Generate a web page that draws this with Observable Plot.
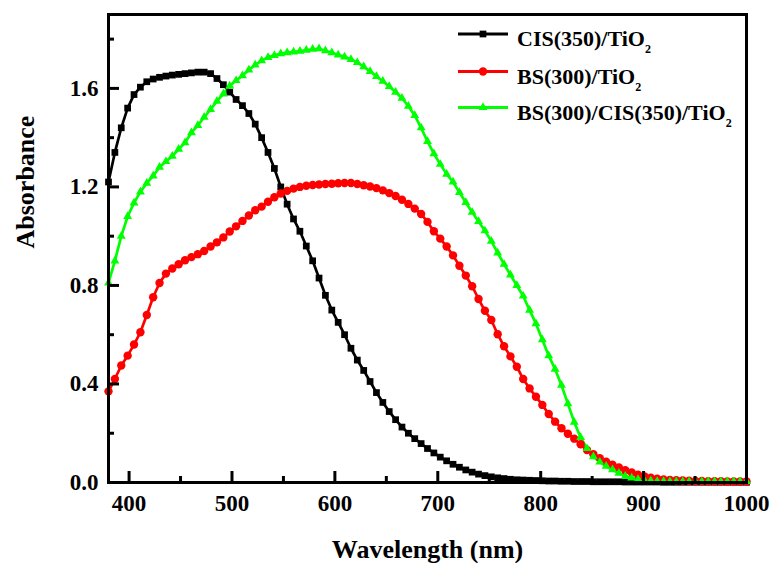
<!DOCTYPE html>
<html>
<head>
<meta charset="utf-8">
<script src="https://cdn.jsdelivr.net/npm/d3@7"></script>
<script src="https://cdn.jsdelivr.net/npm/@observablehq/plot@0.6"></script>
<style>
html, body { margin: 0; padding: 0; background: #fff; }
#wrap { position: relative; width: 774px; height: 563px; overflow: hidden; }
#legend { position: absolute; left: 440px; top: 14px; pointer-events: none; background: transparent; }
</style>
</head>
<body>
<div id="wrap"></div>
<script>
// ---- data ----
const wavelengths = [
  380, 386.2, 392.4, 398.6, 404.8, 411, 417.2, 423.4, 429.6, 435.8,
  442, 448.2, 454.4, 460.6, 466.8, 473, 479.2, 485.4, 491.6, 497.8,
  504, 510.2, 516.4, 522.6, 528.8, 535, 541.2, 547.4, 553.6, 559.8,
  566, 572.2, 578.4, 584.6, 590.8, 597, 603.2, 609.4, 615.6, 621.8,
  628, 634.2, 640.4, 646.6, 652.8, 659, 665.2, 671.4, 677.6, 683.8,
  690, 696.2, 702.4, 708.6, 714.8, 721, 727.2, 733.4, 739.6, 745.8,
  752, 758.2, 764.4, 770.6, 776.8, 783, 789.2, 795.4, 801.6, 807.8,
  814, 820.2, 826.4, 832.6, 838.8, 845, 851.2, 857.4, 863.6, 869.8,
  876, 882.2, 888.4, 894.6, 900.8, 907, 913.2, 919.4, 925.6, 931.8,
  938, 944.2, 950.4, 956.6, 962.8, 969, 975.2, 981.4, 987.6, 993.8,
  1000
];

const cisTiO2 = [
  1.22, 1.34, 1.44, 1.52, 1.575, 1.605, 1.627, 1.638, 1.645, 1.65,
  1.654, 1.657, 1.66, 1.663, 1.666, 1.666, 1.66, 1.64, 1.615, 1.585,
  1.555, 1.53, 1.498, 1.455, 1.40, 1.34, 1.275, 1.20, 1.13, 1.07,
  1.02, 0.96, 0.90, 0.83, 0.76, 0.70, 0.65, 0.60, 0.545, 0.497,
  0.455, 0.41, 0.365, 0.325, 0.288, 0.255, 0.225, 0.20, 0.178, 0.158,
  0.138, 0.12, 0.103, 0.088, 0.074, 0.062, 0.051, 0.042, 0.034, 0.028,
  0.023, 0.019, 0.016, 0.013, 0.011, 0.01, 0.009, 0.008, 0.007, 0.006,
  0.006, 0.005, 0.005, 0.004, 0.004, 0.004, 0.003, 0.003, 0.003, 0.003,
  0.003, 0.002, 0.002, 0.002, 0.002, 0.002, 0.002, 0.001, 0.001, 0.001,
  0.001, 0.001, 0.001, 0.001, 0.001, 0.001, 0.001, 0.001, 0.001, 0.001,
  0.001
];

const bsTiO2 = [
  0.37, 0.42, 0.475, 0.515, 0.56, 0.61, 0.68, 0.752, 0.81, 0.848,
  0.869, 0.886, 0.902, 0.915, 0.927, 0.94, 0.958, 0.975, 0.995, 1.019,
  1.04, 1.062, 1.084, 1.105, 1.12, 1.14, 1.158, 1.173, 1.184, 1.193,
  1.20, 1.205, 1.208, 1.21, 1.212, 1.213, 1.215, 1.216, 1.216, 1.212,
  1.207, 1.202, 1.195, 1.186, 1.175, 1.163, 1.148, 1.131, 1.112, 1.09,
  1.058, 1.02, 0.99, 0.958, 0.922, 0.88, 0.84, 0.797, 0.745, 0.697,
  0.66, 0.602, 0.553, 0.512, 0.47, 0.42, 0.382, 0.348, 0.315, 0.278,
  0.247, 0.22, 0.198, 0.178, 0.155, 0.132, 0.115, 0.099, 0.084, 0.072,
  0.061, 0.05, 0.041, 0.032, 0.025, 0.019, 0.015, 0.012, 0.01, 0.009,
  0.008, 0.007, 0.006, 0.006, 0.005, 0.005, 0.005, 0.004, 0.004, 0.004,
  0.004
];

const bsCisTiO2 = [
  0.81, 0.90, 1.00, 1.08, 1.135, 1.18, 1.215, 1.245, 1.28, 1.303,
  1.325, 1.353, 1.38, 1.42, 1.45, 1.483, 1.515, 1.548, 1.578, 1.61,
  1.632, 1.652, 1.675, 1.695, 1.713, 1.726, 1.734, 1.741, 1.745, 1.748,
  1.751, 1.755, 1.759, 1.761, 1.753, 1.745, 1.736, 1.728, 1.718, 1.705,
  1.688, 1.669, 1.649, 1.629, 1.608, 1.585, 1.56, 1.528, 1.49, 1.44,
  1.385, 1.335, 1.292, 1.252, 1.22, 1.178, 1.137, 1.097, 1.06, 1.022,
  0.98, 0.932, 0.886, 0.843, 0.80, 0.757, 0.70, 0.645, 0.58, 0.515,
  0.46, 0.395, 0.32, 0.245, 0.183, 0.138, 0.105, 0.083, 0.066, 0.052,
  0.038, 0.026, 0.019, 0.013, 0.009, 0.007, 0.005, 0.005, 0.004, 0.004,
  0.004, 0.004, 0.004, 0.004, 0.004, 0.004, 0.004, 0.004, 0.004, 0.004,
  0.004
];

const seriesNames = ["CIS(350)/TiO2", "BS(300)/TiO2", "BS(300)/CIS(350)/TiO2"];
const seriesLabelParts = [["CIS(350)/TiO", "2"], ["BS(300)/TiO", "2"], ["BS(300)/CIS(350)/TiO", "2"]];
const seriesColors = ["#000000", "#ff0000", "#00ff00"];
const seriesSymbols = ["square", "circle", "triangle"];
const seriesValues = [cisTiO2, bsTiO2, bsCisTiO2];

const xMajorTicks = [400, 500, 600, 700, 800, 900, 1000];
const xMinorTicks = [450, 550, 650, 750, 850, 950];
const yMajorTicks = [0, 0.4, 0.8, 1.2, 1.6];
const yMinorTicks = [0.2, 0.6, 1.0, 1.4, 1.8];
const xTitle = "Wavelength (nm)";
const yTitle = "Absorbance";

// ---- long table built from the arrays ----
const rows = [];
seriesNames.forEach((s, k) => {
  wavelengths.forEach((w, i) => rows.push({series: s, w, a: seriesValues[k][i]}));
});

const FONT = "'Liberation Serif', 'Times New Roman', serif";
const dotR = {square: 3.8, circle: 4.2, triangle: 3.3};
const W = 774, H = 563, ML = 108, MR = 28, MT = 14, MB = 81;
const FW = W - ML - MR, FH = H - MT - MB;
const MAJ = 11, MIN = 6;

const chart = Plot.plot({
  width: W,
  height: H,
  marginLeft: ML,
  marginRight: MR,
  marginTop: MT,
  marginBottom: MB,
  x: {domain: [380, 1000]},
  y: {domain: [0, 1.9]},
  color: {domain: seriesNames, range: seriesColors},
  symbol: {domain: seriesNames, range: seriesSymbols},
  style: {fontFamily: FONT, fontWeight: "bold", fontSize: "22px", color: "#000", background: "#fff"},
  marks: [
    Plot.lineY(rows, {x: "w", y: "a", z: "series", stroke: "series", strokeWidth: 2.7}),
    ...seriesNames.map((s, k) => Plot.dot(rows.filter(d => d.series === s), {
      x: "w", y: "a", symbol: "series", fill: "series", stroke: "none", r: dotR[seriesSymbols[k]]
    })),
    Plot.axisX({ticks: xMajorTicks, tickSize: 0, tickPadding: 12, fontSize: 23, fontWeight: "bold", tickFormat: d3.format("d"), label: null}),
    Plot.axisY({ticks: yMajorTicks, tickSize: 0, tickPadding: 10, fontSize: 23, fontWeight: "bold", tickFormat: d3.format(".1f"), label: null}),
    Plot.frame({stroke: "#000", strokeWidth: 3}),
    // inward ticks along the bottom and left edges of the frame
    Plot.ruleX(xMajorTicks, {x: d => d, insetTop: FH - MAJ, stroke: "#000", strokeWidth: 3}),
    Plot.ruleX(xMinorTicks, {x: d => d, insetTop: FH - MIN, stroke: "#000", strokeWidth: 3}),
    Plot.ruleY(yMajorTicks, {y: d => d, insetRight: FW - MAJ, stroke: "#000", strokeWidth: 3}),
    Plot.ruleY(yMinorTicks, {y: d => d, insetRight: FW - MIN, stroke: "#000", strokeWidth: 3}),
    Plot.text([xTitle], {text: d => d, frameAnchor: "bottom", dy: 67, fontSize: 26, fontWeight: "bold", lineAnchor: "middle"}),
    Plot.text([yTitle], {text: d => d, frameAnchor: "left", dx: -83, rotate: -90, fontSize: 26, fontWeight: "bold", lineAnchor: "middle"})
  ]
});

const wrap = document.getElementById("wrap");
wrap.appendChild(chart);

// ---- legend overlay (inside the frame, top right), limited to its own box ----
const LX = 440, LY = 14;
const leg = d3.select(wrap).append("svg")
  .attr("id", "legend").attr("width", 300).attr("height", 115);
const legX0 = 458 - LX, legX1 = 508 - LX, legTextX = 517 - LX;
const legRowY = [34 - LY, 71.5 - LY, 107.5 - LY];
seriesNames.forEach((s, k) => {
  const y = legRowY[k];
  const g = leg.append("g");
  g.append("line").attr("x1", legX0).attr("x2", legX1).attr("y1", y).attr("y2", y)
    .attr("stroke", seriesColors[k]).attr("stroke-width", 3);
  const r = dotR[seriesSymbols[k]];
  const type = {square: d3.symbolSquare, circle: d3.symbolCircle, triangle: d3.symbolTriangle}[seriesSymbols[k]];
  g.append("path").attr("d", d3.symbol(type, r * r * Math.PI)())
    .attr("transform", `translate(${(legX0 + legX1) / 2},${y})`)
    .attr("fill", seriesColors[k]);
  const t = g.append("text").attr("x", legTextX).attr("y", y + 12)
    .attr("font-family", FONT).attr("font-weight", "bold").attr("font-size", 22).attr("fill", "#000");
  t.append("tspan").text(seriesLabelParts[k][0]);
  t.append("tspan").attr("font-size", 12).attr("dy", 7).text(seriesLabelParts[k][1]);
});
</script>
</body>
</html>
